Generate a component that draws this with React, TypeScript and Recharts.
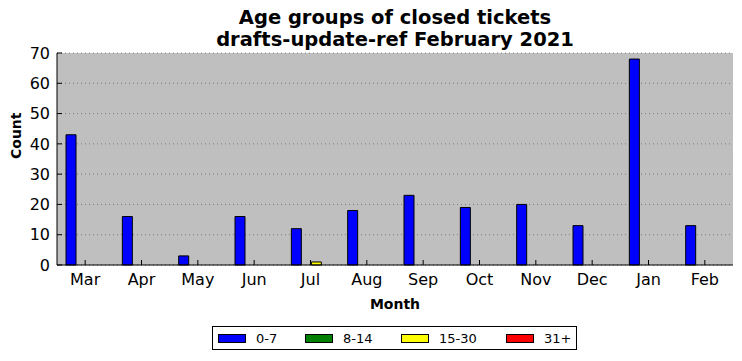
import React from 'react';
import { BarChart, Bar, XAxis, YAxis, CartesianGrid } from 'recharts';

const months = ['Mar', 'Apr', 'May', 'Jun', 'Jul', 'Aug', 'Sep', 'Oct', 'Nov', 'Dec', 'Jan', 'Feb'];
const age0to7 = [43, 16, 3, 16, 12, 18, 23, 19, 20, 13, 68, 13];
const age8to14 = [0, 0, 0, 0, 0, 0, 0, 0, 0, 0, 0, 0];
const age15to30 = [0, 0, 0, 0, 1, 0, 0, 0, 0, 0, 0, 0];
const age31plus = [0, 0, 0, 0, 0, 0, 0, 0, 0, 0, 0, 0];
const yTicks = [0, 10, 20, 30, 40, 50, 60, 70];

const seriesInfo = [
  { key: 'a', name: '0-7', color: '#0000ff' },
  { key: 'b', name: '8-14', color: '#008000' },
  { key: 'c', name: '15-30', color: '#ffff00' },
  { key: 'd', name: '31+', color: '#ff0000' },
];

const data = months.map((m, i) => ({
  month: m,
  a: age0to7[i],
  b: age8to14[i],
  c: age15to30[i],
  d: age31plus[i],
}));

const FONT = 'DejaVu Sans, sans-serif';

const LegendBox = () => (
  <div
    style={{
      position: 'absolute',
      left: 212,
      top: 326,
      width: 365,
      height: 24,
      border: '1px solid #000',
      boxSizing: 'border-box',
      fontFamily: FONT,
      fontSize: 13,
      background: '#fff',
    }}
  >
    {seriesInfo.map((s, i) => (
      <div key={s.key} style={{ position: 'absolute', left: [5, 92, 188, 293][i], top: 5, display: 'flex', alignItems: 'center' }}>
        <div style={{ width: 28, height: 9, background: s.color, border: '1px solid #000', boxSizing: 'border-box' }} />
        <span style={{ marginLeft: 10, lineHeight: '13px' }}>{s.name}</span>
      </div>
    ))}
  </div>
);

export default function App() {
  return (
    <div style={{ position: 'absolute', left: 0, top: 0, width: 742, height: 361, background: '#fff' }}>
      <div
        style={{
          position: 'absolute',
          left: 57,
          width: 676,
          top: 7,
          textAlign: 'center',
          fontFamily: FONT,
          fontWeight: 'bold',
          fontSize: 19.5,
          lineHeight: '22px',
        }}
      >
        Age groups of closed tickets
        <br />
        drafts-update-ref February 2021
      </div>
      <BarChart
        width={742}
        height={361}
        data={data}
        margin={{ top: 53, right: 9, bottom: 0, left: 0 }}
        barCategoryGap="16%"
        barGap={0}
        style={{ position: 'absolute', left: 0, top: 0 }}
      >
        <CartesianGrid vertical={false} horizontal stroke="#7a7a7a" strokeDasharray="1 3" fill="#bfbfbf" fillOpacity={1} />
        <XAxis
          dataKey="month"
          xAxisId={0}
          axisLine={{ stroke: '#000' }}
          tickLine={{ stroke: '#000' }}
          tickSize={-5}
          tick={{ fill: '#000', fontSize: 16, fontFamily: FONT, dy: 12 }}
          interval={0}
          label={{ value: 'Month', position: 'insideTop', offset: 34, fill: '#000', fontSize: 14, fontWeight: 'bold', fontFamily: FONT }}
          height={96}
        />
        <XAxis dataKey="month" xAxisId="top" orientation="top" axisLine={{ stroke: '#000' }} tickLine={{ stroke: '#000' }} tickSize={-5} tick={false} interval={0} height={0} />
        <YAxis
          yAxisId={0}
          domain={[0, 70]}
          ticks={yTicks}
          axisLine={{ stroke: '#000' }}
          tickLine={{ stroke: '#000' }}
          tickSize={-5}
          tick={{ fill: '#000', fontSize: 16, fontFamily: FONT, dx: -10 }}
          width={57}
          label={{ value: 'Count', angle: -90, position: 'insideLeft', offset: 0, fill: '#000', fontSize: 14, fontWeight: 'bold', fontFamily: FONT, dx: 16 }}
        />
        <YAxis yAxisId="right" orientation="right" domain={[0, 70]} ticks={yTicks} axisLine={{ stroke: '#000' }} tickLine={{ stroke: '#000' }} tickSize={-5} tick={false} width={0} />
        {seriesInfo.map((s) => (
          <Bar key={s.key} dataKey={s.key} name={s.name} fill={s.color} stroke="#000" strokeWidth={1} isAnimationActive={false} xAxisId={0} yAxisId={0} />
        ))}
      </BarChart>
      <LegendBox />
    </div>
  );
}
